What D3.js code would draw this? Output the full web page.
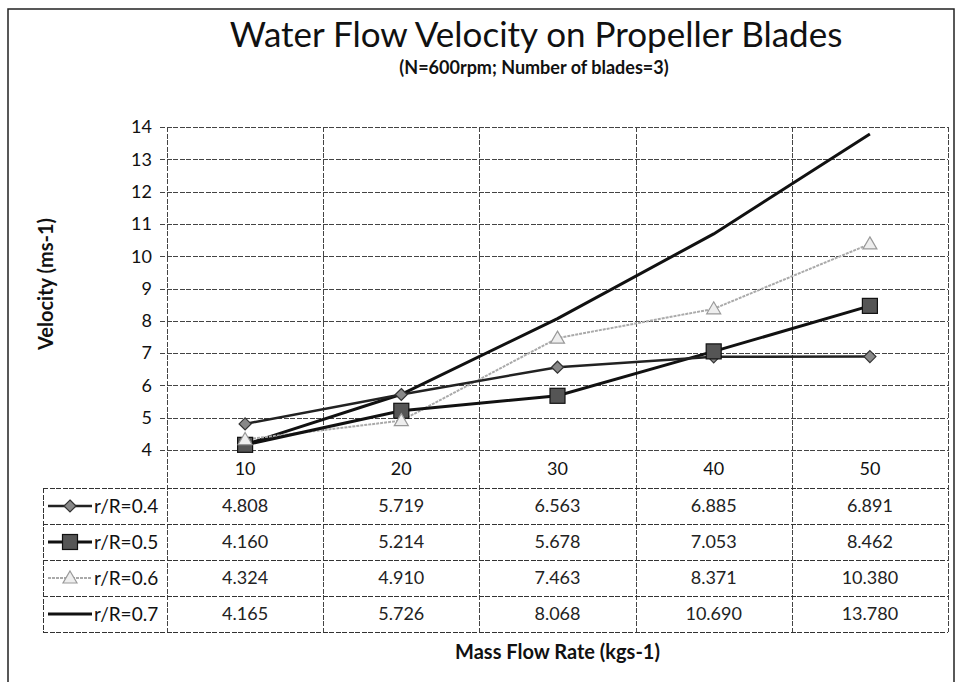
<!DOCTYPE html>
<meta charset="utf-8">
<style>
body { margin: 0; background: #fff; }
text { font-family: Lato, "Open Sans", sans-serif; fill: #111; }
.grid line { stroke: #444; stroke-width: 1; stroke-dasharray: 5,1.5; shape-rendering: crispEdges; }
.tbl line { stroke: #333; stroke-width: 1; stroke-dasharray: 5,1.5; shape-rendering: crispEdges; }
</style>
<svg width="958" height="682"></svg>
<script src="https://d3js.org/d3.v7.min.js"></script>
<script>

// mass flow rate categories (kgs-1)
var flowRates = [10, 20, 30, 40, 50];

// velocity (ms-1) per radius ratio
var v04 = [4.808, 5.719, 6.563, 6.885, 6.891];
var v05 = [4.160, 5.214, 5.678, 7.053, 8.462];
var v06 = [4.324, 4.910, 7.463, 8.371, 10.380];
var v07 = [4.165, 5.726, 8.068, 10.690, 13.780];

var seriesNames = ["r/R=0.4", "r/R=0.5", "r/R=0.6", "r/R=0.7"];
var yTicks = [4, 5, 6, 7, 8, 9, 10, 11, 12, 13, 14];

var series = [
  {name: seriesNames[0], values: v04, stroke: "#222", width: 2.5, dash: null, marker: "diamond"},
  {name: seriesNames[1], values: v05, stroke: "#111", width: 3, dash: null, marker: "square"},
  {name: seriesNames[2], values: v06, stroke: "#aaa", width: 2, dash: "3,1", marker: "triangle"},
  {name: seriesNames[3], values: v07, stroke: "#111", width: 3, dash: null, marker: "none"}
];

var svg = d3.select("svg");

var plot = {left: 167, right: 948, top: 127, bottom: 450};
var rowH = 36, headerH = 38, legendLeft = 43;

var x = d3.scaleBand().domain(flowRates).range([plot.left, plot.right]).padding(0);
var y = d3.scaleLinear().domain([4, 14]).range([plot.bottom, plot.top]);

// outer chart border
svg.append("rect")
    .attr("x", 8).attr("y", 9)
    .attr("width", 946).attr("height", 700)
    .attr("fill", "none").attr("stroke", "#222").attr("stroke-width", 1.5);

// title
svg.append("text")
    .attr("x", 536).attr("y", 47)
    .attr("text-anchor", "middle")
    .style("font-size", "35px")
    .text("Water Flow Velocity on Propeller Blades");

svg.append("text")
    .attr("x", 534).attr("y", 74)
    .attr("text-anchor", "middle")
    .style("font-size", "18px").style("font-weight", "bold")
    .text("(N=600rpm; Number of blades=3)");

// grid
var grid = svg.append("g").attr("class", "grid");
grid.selectAll("line.h").data(yTicks).enter().append("line")
    .attr("class", "h")
    .attr("x1", plot.left - 7).attr("x2", plot.right)
    .attr("y1", function(d) { return Math.round(y(d)) + 0.5; })
    .attr("y2", function(d) { return Math.round(y(d)) + 0.5; });

var tableBottom = plot.bottom + headerH + rowH * series.length;
var bounds = flowRates.map(function(d) { return x(d); }).concat([plot.right]);
grid.selectAll("line.v").data(bounds).enter().append("line")
    .attr("class", "v")
    .attr("y1", plot.top).attr("y2", tableBottom)
    .attr("x1", function(d) { return Math.round(d) + 0.5; })
    .attr("x2", function(d) { return Math.round(d) + 0.5; });

// y tick labels
svg.append("g").selectAll("text").data(yTicks).enter().append("text")
    .attr("x", 152)
    .attr("y", function(d) { return y(d); })
    .attr("dy", "0.35em")
    .attr("text-anchor", "end")
    .style("font-size", "18px")
    .text(function(d) { return d; });

// y axis title
svg.append("text")
    .attr("transform", "translate(53,284) rotate(-90)")
    .attr("text-anchor", "middle")
    .style("font-size", "20px").style("font-weight", "bold")
    .text("Velocity (ms-1)");

// lines + markers
var line = d3.line()
    .x(function(d, i) { return x(flowRates[i]) + x.bandwidth() / 2; })
    .y(function(d) { return y(d); });

function drawMarker(sel, kind, cx, cy) {
  if (kind == "diamond") {
    sel.append("path")
        .attr("d", "M" + cx + "," + (cy - 6) + "L" + (cx + 6) + "," + cy + "L" + cx + "," + (cy + 6) + "L" + (cx - 6) + "," + cy + "Z")
        .attr("fill", "#888").attr("stroke", "#333").attr("stroke-width", 1.2);
  } else if (kind == "square") {
    sel.append("rect")
        .attr("x", cx - 7.5).attr("y", cy - 7.5).attr("width", 15).attr("height", 15)
        .attr("fill", "#555").attr("stroke", "#111").attr("stroke-width", 1.2);
  } else if (kind == "triangle") {
    sel.append("path")
        .attr("d", "M" + cx + "," + (cy - 7) + "L" + (cx + 7) + "," + (cy + 5) + "L" + (cx - 7) + "," + (cy + 5) + "Z")
        .attr("fill", "#eee").attr("stroke", "#999").attr("stroke-width", 1.2);
  }
}

var marks = svg.append("g");
series.slice().reverse().forEach(function(s) {
  marks.append("path")
      .datum(s.values)
      .attr("d", line)
      .attr("fill", "none")
      .attr("stroke", s.stroke)
      .attr("stroke-width", s.width)
      .attr("stroke-dasharray", s.dash);
});
series.forEach(function(s) {
  s.values.forEach(function(v, i) {
    drawMarker(marks, s.marker, x(flowRates[i]) + x.bandwidth() / 2, y(v));
  });
});

// data table
var tbl = svg.append("g").attr("class", "tbl");
var rowTops = series.map(function(s, i) { return plot.bottom + headerH + rowH * i; });
tbl.selectAll("line.r").data(rowTops.concat([tableBottom])).enter().append("line")
    .attr("x1", legendLeft).attr("x2", plot.right)
    .attr("y1", function(d) { return d + 0.5; })
    .attr("y2", function(d) { return d + 0.5; });
tbl.append("line")
    .attr("x1", legendLeft + 0.5).attr("x2", legendLeft + 0.5)
    .attr("y1", rowTops[0]).attr("y2", tableBottom);

// header (category labels)
svg.append("g").selectAll("text").data(flowRates).enter().append("text")
    .attr("x", function(d) { return x(d) + x.bandwidth() / 2; })
    .attr("y", plot.bottom + headerH / 2)
    .attr("dy", "0.35em")
    .attr("text-anchor", "middle")
    .style("font-size", "18px")
    .text(function(d) { return d; });

series.forEach(function(s, r) {
  var cy = rowTops[r] + rowH / 2;
  var g = svg.append("g");
  g.append("line")
      .attr("x1", 48).attr("x2", 92).attr("y1", cy).attr("y2", cy)
      .attr("stroke", s.stroke).attr("stroke-width", s.width)
      .attr("stroke-dasharray", s.dash);
  drawMarker(g, s.marker, 70, cy);
  g.append("text")
      .attr("x", 94).attr("y", cy).attr("dy", "0.35em")
      .style("font-size", "19px")
      .text(s.name);
  g.selectAll("text.val").data(s.values).enter().append("text")
      .attr("class", "val")
      .attr("x", function(d, i) { return x(flowRates[i]) + x.bandwidth() / 2; })
      .attr("y", cy).attr("dy", "0.35em")
      .attr("text-anchor", "middle")
      .style("font-size", "18px")
      .style("fill", "#222")
      .text(function(d) { return d.toFixed(3); });
});

// x axis title
svg.append("text")
    .attr("x", (plot.left + plot.right) / 2).attr("y", 659)
    .attr("text-anchor", "middle")
    .style("font-size", "20px").style("font-weight", "bold")
    .text("Mass Flow Rate (kgs-1)");

</script>
